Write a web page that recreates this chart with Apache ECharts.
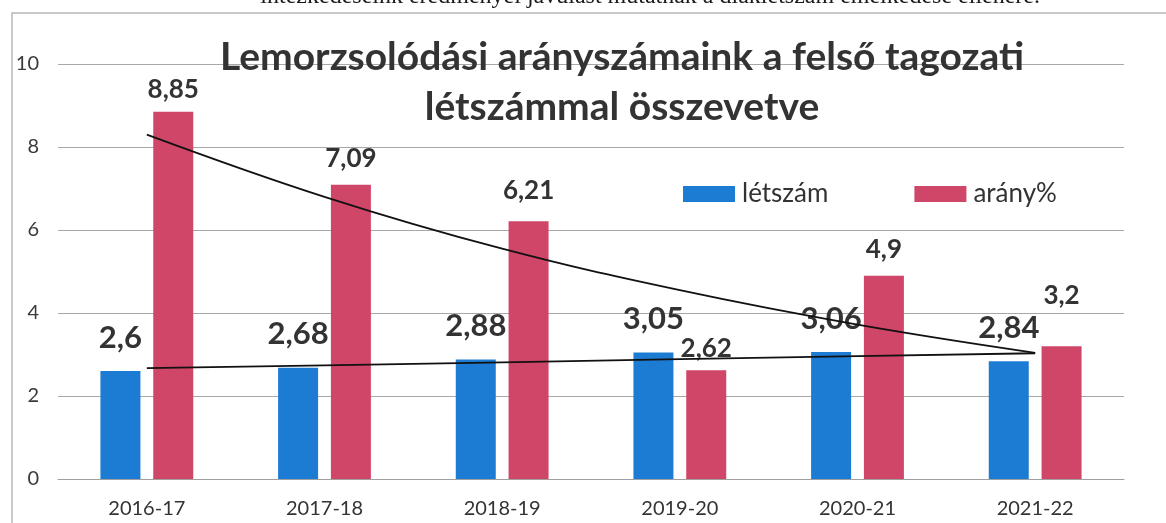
<!DOCTYPE html>
<html>
<head>
<meta charset="utf-8">
<script src="https://cdn.jsdelivr.net/npm/echarts@6/dist/echarts.min.js"></script>
<style>
html,body{margin:0;padding:0;background:#fff;}
#c{width:1166px;height:523px;}
</style>
</head>
<body>
<div id="c"></div>
<script>
const categories = ['2016-17', '2017-18', '2018-19', '2019-20', '2020-21', '2021-22'];
const letszam = [2.6, 2.68, 2.88, 3.05, 3.06, 2.84];
const arany = [8.85, 7.09, 6.21, 2.62, 4.9, 3.2];
// trend lines
const letszamTrend = [2.67, 2.74, 2.81, 2.89, 2.96, 3.03];
const aranyTrend = [8.3, 6.8, 5.55, 4.55, 3.72, 3.04];
const yTicks = [0, 2, 4, 6, 8, 10];

// label placement tweaks (style only, in px)
const aranyLabelShift = [0, -4, -9, 0, -4, -29];

const FONT = 'Lato';
const fmt = p => String(p.value).replace('.', ',');

const chart = echarts.init(document.getElementById('c'), null, {renderer: 'canvas'});
chart.setOption({
  backgroundColor: '#ffffff',
  animation: false,
  title: {
    text: 'Lemorzsolódási arányszámaink a felső tagozati\nlétszámmal összevetve',
    left: 617,
    top: 27,
    textAlign: 'center',
    textStyle: {
      fontFamily: FONT, fontWeight: 'bold', fontSize: 39, lineHeight: 50, color: '#333333'
    }
  },
  legend: {
    data: ['létszám', 'arány%'],
    left: 678,
    top: 176,
    itemWidth: 52,
    itemHeight: 16,
    itemGap: 86,
    icon: 'rect',
    textStyle: {fontFamily: FONT, fontSize: 26, color: '#333333', padding: [0, 0, 0, 2]}
  },
  grid: {left: 58, right: 42, top: 64, bottom: 44, containLabel: false},
  xAxis: {
    type: 'category',
    data: categories,
    axisLine: {show: true, lineStyle: {color: '#a0a0a0', width: 1}},
    axisTick: {show: false},
    axisLabel: {fontFamily: FONT, fontSize: 20, color: '#333333', margin: 20}
  },
  yAxis: {
    type: 'value',
    min: yTicks[0],
    max: yTicks[yTicks.length - 1],
    interval: 2,
    axisLine: {show: false},
    axisTick: {show: false},
    axisLabel: {fontFamily: FONT, fontSize: 20, color: '#3a3a3a', margin: 19},
    splitLine: {lineStyle: {color: '#a8a8a8', width: 1.1}}
  },
  graphic: [
    {
      type: 'rect', silent: true, z: -1,
      shape: {x: 12, y: 13, width: 1400, height: 700},
      style: {fill: null, stroke: '#b8b8b8', lineWidth: 1.5}
    },
    {
      type: 'text', silent: true,
      style: {
        text: 'intézkedéseink eredményei javulást mutatnak a diáklétszám emelkedése ellenére.',
        x: 1040, y: 9, align: 'right', verticalAlign: 'bottom',
        font: '24px "Liberation Serif"', fill: '#1a1a1a'
      }
    }
  ],
  series: [
    {
      name: 'létszám',
      type: 'bar',
      data: letszam,
      barWidth: 40,
      barGap: '32%',
      itemStyle: {color: '#1c7cd4'},
      label: {
        show: true, position: 'top', distance: 18, formatter: fmt,
        fontFamily: FONT, fontWeight: 'bold', fontSize: 31, color: '#333333'
      }
    },
    {
      name: 'arány%',
      type: 'bar',
      data: arany.map((v, i) => ({value: v, label: {offset: [0, aranyLabelShift[i]]}})),
      barWidth: 40,
      itemStyle: {color: '#d04668'},
      label: {
        show: true, position: 'top', distance: 9, formatter: fmt,
        fontFamily: FONT, fontWeight: 'bold', fontSize: 26, color: '#333333'
      }
    },
    {
      name: 'létszám trend',
      type: 'line',
      data: letszamTrend,
      symbol: 'none',
      lineStyle: {color: '#111111', width: 1.8},
      z: 5
    },
    {
      name: 'arány% trend',
      type: 'line',
      data: aranyTrend,
      smooth: 0.4,
      symbol: 'none',
      lineStyle: {color: '#111111', width: 1.8},
      z: 5
    }
  ]
});
</script>
</body>
</html>
